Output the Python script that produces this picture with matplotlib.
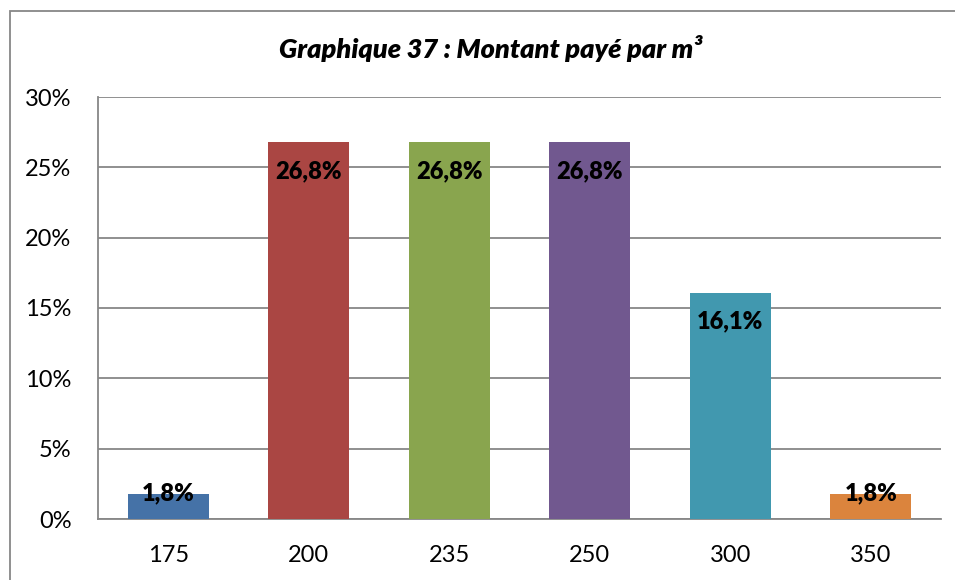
import matplotlib
matplotlib.use("Agg")
import matplotlib.pyplot as plt
from matplotlib.patches import Rectangle
from matplotlib.ticker import FuncFormatter

# ── Data ──────────────────────────────────────────────────────────────────────
categories = ["175", "200", "235", "250", "300", "350"]
values = [1.8, 26.8, 26.8, 26.8, 16.1, 1.8]
bar_colors = ["#4572A7", "#AA4643", "#89A54E", "#71588F", "#4198AF", "#DB843D"]
title = "Graphique 37 : Montant payé par m³"

plt.rcParams["font.family"] = ["Lato", "DejaVu Sans"]
GRID = "#878787"

fig = plt.figure(figsize=(9.55, 5.8), dpi=100)
ax = fig.add_axes([98 / 955, 1 - 519 / 580, 843 / 955, 422 / 580])

x = range(len(categories))
ax.bar(x, values, width=0.577, color=bar_colors, zorder=3)
ax.set_xlim(-0.5, len(categories) - 0.5)
ax.set_ylim(0, 30)
ax.set_yticks(range(0, 31, 5))
ax.yaxis.set_major_formatter(FuncFormatter(lambda v, _: f"{v:.0f}%"))
ax.set_xticks(list(x))
ax.set_xticklabels(categories)

ax.grid(axis="y", color=GRID, lw=1.3, zorder=0)
for side in ("top", "right"):
    ax.spines[side].set_visible(False)
for side in ("left", "bottom"):
    ax.spines[side].set_color(GRID)
    ax.spines[side].set_linewidth(1.3)
ax.tick_params(axis="both", length=0, labelsize=17, colors="black")
ax.tick_params(axis="y", pad=19)
ax.tick_params(axis="x", pad=19)

for xi, v in zip(x, values):
    dy = 0 if v < 3 else -21
    ax.annotate(f"{v:.1f}%".replace(".", ","), (xi, v), xytext=(0, dy),
                textcoords="offset points", ha="center", va="center",
                fontsize=17, fontweight="heavy", zorder=4)

fig.text(491 / 955, 1 - 48 / 580, title, ha="center", va="center",
         fontsize=19.5, fontweight="heavy", fontstyle="italic")

# chart frame
fig.patches.append(Rectangle((9.5 / 955, -0.05), 1.0, 1 - 10.5 / 580 + 0.05,
                             transform=fig.transFigure, fill=False,
                             ec=GRID, lw=1.3))

fig.savefig("out.png", dpi=100)
